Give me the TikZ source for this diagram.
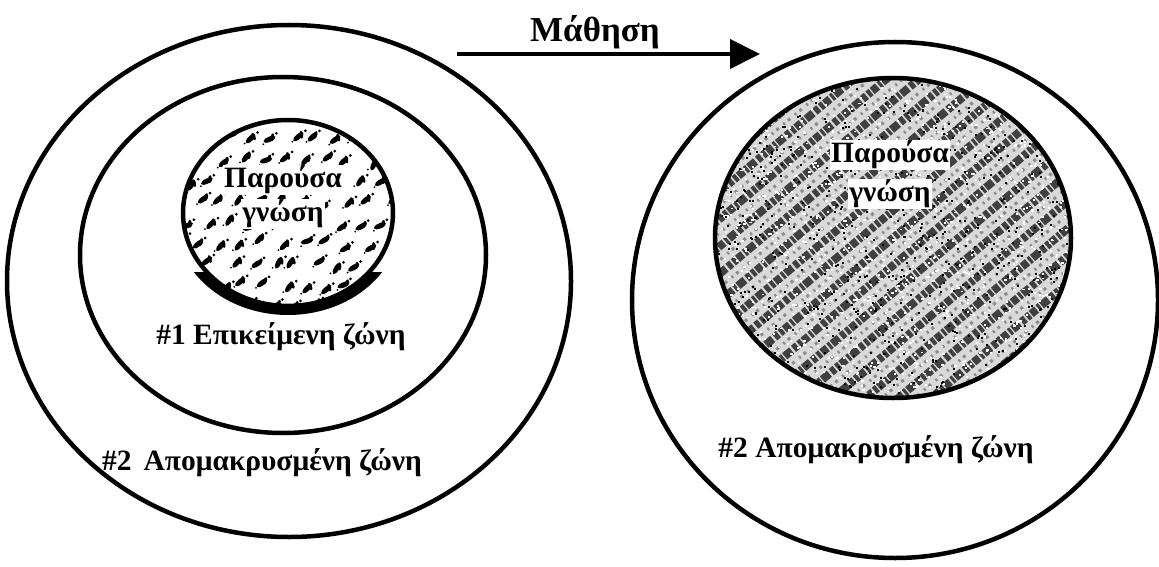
\documentclass[tikz,border=0pt]{standalone}
\usepackage{fontspec}
\setmainfont{Liberation Serif}
\usetikzlibrary{arrows.meta,shapes.geometric}
\begin{document}
\begin{tikzpicture}[x=1pt,y=-1pt,
  zone/.style={draw, line width=4.5pt, ellipse, inner sep=0pt, outer sep=0pt},
  knowtxt/.style={font=\bfseries\fontsize{29.5}{31}\selectfont, inner sep=1pt, fill=white},
  zonetxt/.style={font=\bfseries\fontsize{29.5}{31}\selectfont, inner sep=0pt},
  learntxt/.style={font=\bfseries\fontsize{35}{37}\selectfont, inner sep=0pt},
  learnarrow/.style={line width=4pt, -{Triangle[length=30pt,width=29pt]}}]
\useasboundingbox[fill=white] (0,0) rectangle (1159,567);

% ---------- left group ----------
\node[zone, minimum width=564pt, minimum height=512pt] (outerL) at (289,281) {};
\node[zone, minimum width=406pt, minimum height=356pt] (innerL) at (283,255) {};

\pgfmathsetseed{42}
\begin{scope}
  \clip (288,213) ellipse [x radius=105pt, y radius=93pt];
  \foreach \i in {0,...,10}{\foreach \j in {0,...,9}{
    \pgfmathsetmacro\xx{180+\i*21+mod(\j,2)*10+rand*5}
    \pgfmathsetmacro\yy{118+\j*21+rand*5}
    \pgfmathsetmacro\aa{40+rand*25}
    \pgfmathsetmacro\bb{\aa+50+rand*20}
    \fill[rotate around={\aa:(\xx,\yy)}] (\xx,\yy) ellipse [x radius=6.5pt, y radius=2.6pt];
    \fill[rotate around={\bb:(\xx+3,\yy-2)}] (\xx+3,\yy-2) ellipse [x radius=4pt, y radius=1.8pt];
    \fill (\xx+7,\yy-6) circle (1.5pt);
    \fill (\xx-6,\yy+5) circle (1pt);
  }}
\end{scope}
% dark band under the small circle
\begin{scope}
  \clip (150,272) rectangle (430,330);
  \fill[even odd rule] (288,219) ellipse [x radius=113pt, y radius=96pt]
                       (288,213) ellipse [x radius=104pt, y radius=92pt];
\end{scope}
\node[zone, minimum width=210pt, minimum height=186pt] (knowL) at (288,213) {};

\node[knowtxt] (pL1) at (283,180) {Παρούσα};
\node[knowtxt] (pL2) at (283,214) {γνώση};
\node[zonetxt] (z1) at (281,337) {\#1 Επικείμενη ζώνη};
\node[zonetxt] (z2L) at (262,463) {\#2\hspace{12pt}Απομακρυσμένη ζώνη};

% ---------- arrow ----------
\coordinate (aS) at (457,54);
\coordinate (aE) at (760,54);
\draw[learnarrow] (aS) -- (aE);
\node[learntxt] (learn) at (595,32) {Μάθηση};

% ---------- right group ----------
\node[zone, minimum width=526pt, minimum height=516pt] (outerR) at (895,300) {};

\begin{scope}
  \clip (893,238) ellipse [x radius=178pt, y radius=160pt];
  \fill[gray!30] (700,60) rectangle (1090,420);
  \begin{scope}[shift={(893,238)}, rotate=40]
    \foreach \k in {-13,...,13}{
      \draw[line width=8pt, black!75, dash pattern=on 4pt off 1.5pt on 7pt off 2pt on 3pt off 1.5pt on 9pt off 2.5pt on 5pt off 2pt, dash phase=\k*7pt]
        (-260pt,\k*21pt) -- (260pt,\k*21pt);
      \draw[line width=3pt, black!45, dash pattern=on 2pt off 4pt on 3pt off 6pt, dash phase=\k*3pt]
        (-260pt,\k*21pt+10.5pt) -- (260pt,\k*21pt+10.5pt);
    }
  \end{scope}
  \foreach \n in {1,...,1600}{
    \pgfmathsetmacro\xx{893+rand*180}
    \pgfmathsetmacro\yy{238+rand*162}
    \fill[white] (\xx,\yy) rectangle (\xx+2.2,\yy+1.8);
  }
  \foreach \n in {1,...,800}{
    \pgfmathsetmacro\xx{893+rand*180}
    \pgfmathsetmacro\yy{238+rand*162}
    \fill[black] (\xx,\yy) rectangle (\xx+2,\yy+2);
  }
\end{scope}
\node[zone, minimum width=356pt, minimum height=320pt] (knowR) at (893,238) {};

\node[knowtxt] (pR1) at (890,155) {Παρούσα};
\node[knowtxt] (pR2) at (890,194) {γνώση};
\node[zonetxt] (z2R) at (876,450) {\#2 Απομακρυσμένη ζώνη};
\end{tikzpicture}
\end{document}
